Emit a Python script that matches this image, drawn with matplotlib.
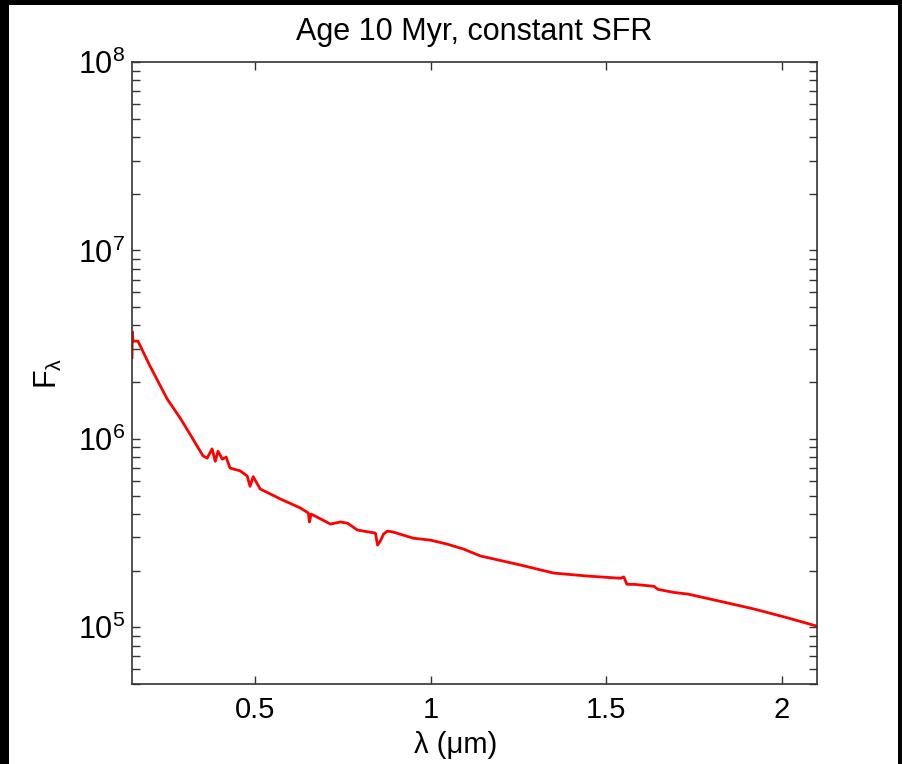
import matplotlib
matplotlib.use("Agg")
import matplotlib.pyplot as plt
from matplotlib.patches import Rectangle
from matplotlib.ticker import LogLocator, FixedLocator

plt.rcParams['font.family'] = ['Liberation Sans', 'DejaVu Sans']
plt.rcParams['mathtext.fontset'] = 'custom'
plt.rcParams['mathtext.rm'] = 'Liberation Sans'
plt.rcParams['mathtext.it'] = 'Liberation Sans'
plt.rcParams['mathtext.default'] = 'regular'

# Data
wavelength_um = [0.150, 0.151, 0.153, 0.167, 0.201, 0.250, 0.287, 0.315, 0.352, 0.364,
                 0.378, 0.387, 0.395, 0.407, 0.418, 0.429, 0.458, 0.478, 0.486, 0.495,
                 0.515, 0.572, 0.629, 0.652, 0.655, 0.660, 0.715, 0.743, 0.763, 0.792,
                 0.843, 0.849, 0.857, 0.866, 0.877, 0.894, 0.951, 1.000, 1.048, 1.094,
                 1.142, 1.256, 1.350, 1.447, 1.541, 1.550, 1.559, 1.579, 1.636, 1.647,
                 1.693, 1.733, 1.827, 1.921, 2.018, 2.103]
flux = [2.7e6, 3.7e6, 3.3e6, 3.3e6, 2.44e6, 1.63e6, 1.29e6, 1.06e6, 8.13e5, 7.9e5,
        8.85e5, 7.6e5, 8.6e5, 7.8e5, 8.0e5, 7.0e5, 6.76e5, 6.35e5, 5.6e5, 6.3e5,
        5.42e5, 4.80e5, 4.30e5, 4.04e5, 3.62e5, 3.99e5, 3.53e5, 3.62e5, 3.57e5, 3.28e5,
        3.16e5, 2.73e5, 2.87e5, 3.12e5, 3.24e5, 3.20e5, 2.97e5, 2.90e5, 2.76e5, 2.60e5,
        2.39e5, 2.14e5, 1.94e5, 1.87e5, 1.82e5, 1.85e5, 1.69e5, 1.69e5, 1.65e5, 1.59e5,
        1.53e5, 1.50e5, 1.37e5, 1.25e5, 1.12e5, 1.01e5]
x_ticks = [0.5, 1, 1.5, 2]
x_tick_labels = ['0.5', '1', '1.5', '2']
title = 'Age 10 Myr, constant SFR'

fig = plt.figure(figsize=(9.02, 7.64), dpi=100, facecolor='black')
fig.patches.append(Rectangle((9/902, 0), (898-9)/902, (764-5)/764,
                             transform=fig.transFigure, facecolor='white',
                             edgecolor='none', zorder=-10))
ax = fig.add_axes([132/902, 80/764, 685/902, 622/764])
ax.plot(wavelength_um, flux, color='red', lw=2)
ax.set_yscale('log')
ax.set_xlim(0.15, 2.1)
ax.set_ylim(5e4, 1e8)
ax.xaxis.set_major_locator(FixedLocator(x_ticks))
ax.set_xticklabels(x_tick_labels)
ax.yaxis.set_major_locator(LogLocator(base=10, numticks=10))
ax.yaxis.set_minor_locator(LogLocator(base=10, subs=range(2, 10), numticks=10))
ax.tick_params(axis='both', which='both', direction='in', top=True, right=True,
               length=6, width=1, color='#333333')
ax.tick_params(axis='x', labelsize=21, pad=9)
ax.tick_params(axis='y', labelsize=22, pad=5)
for s in ax.spines.values():
    s.set_linewidth(1.2)
    s.set_color('#333333')
ax.set_title(title, fontsize=22, pad=16)
ax.set_xlabel('λ (μm)', fontsize=21)
ax.xaxis.set_label_coords(0.473, -0.075)
ax.set_ylabel(r'F$_{\lambda}$', fontsize=22)
ax.yaxis.set_label_coords(-0.1, 0.5)
fig.savefig('out.png', dpi=100, facecolor=fig.get_facecolor())
